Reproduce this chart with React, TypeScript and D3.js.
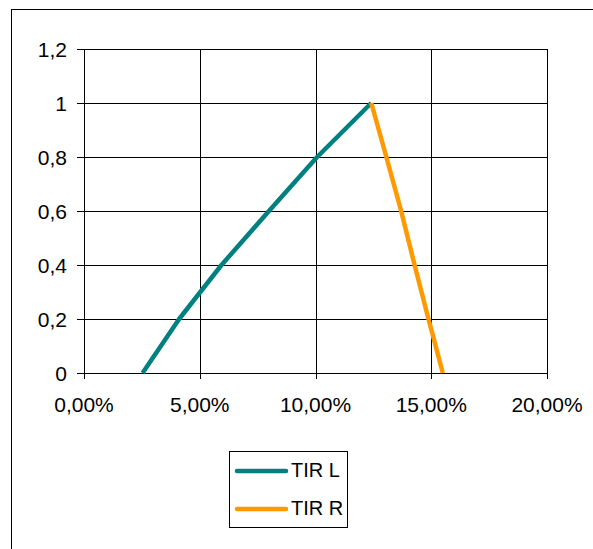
import React from "react";
import * as d3 from "d3";

const xTicks = [0, 0.05, 0.1, 0.15, 0.2];
const yTicks = [0, 0.2, 0.4, 0.6, 0.8, 1, 1.2];

const tirLx = [0.0253, 0.0411, 0.0594, 0.0799, 0.1007, 0.1241];
const tirLy = [0, 0.2, 0.4, 0.6, 0.8, 1];
const tirRx = [0.1241, 0.1306, 0.137, 0.1428, 0.1488, 0.155];
const tirRy = [1, 0.8, 0.6, 0.4, 0.2, 0];

const seriesNames = ["TIR L", "TIR R"];
const colors = ["#008080", "#FF9900"];

const W = 593;
const H = 549;
const left = 84;
const right = 547;
const top = 49;
const bottom = 373;

const fmtX = (v: number) => (v * 100).toFixed(2).replace(".", ",") + "%";
const fmtY = (v: number) => String(Math.round(v * 10) / 10).replace(".", ",");

export default function App() {
  const x = d3.scaleLinear().domain([0, 0.2]).range([left, right]);
  const y = d3.scaleLinear().domain([0, 1.2]).range([bottom, top]);
  const line = d3
    .line<[number, number]>()
    .x((d) => x(d[0]))
    .y((d) => y(d[1]));
  const dataL: [number, number][] = tirLx.map((v, i) => [v, tirLy[i]]);
  const dataR: [number, number][] = tirRx.map((v, i) => [v, tirRy[i]]);
  const font = "'Liberation Sans', Arial, sans-serif";
  const px = (v: number) => Math.round(v) + 0.5;

  return (
    <svg
      width={W}
      height={H}
      style={{ position: "absolute", left: 0, top: 0, background: "#fff" }}
    >
      <rect x={0} y={0} width={W} height={H} fill="#fff" />
      <rect x={11.5} y={9.5} width={W + 20} height={H + 20} fill="none" stroke="#000" strokeWidth={1} />
      {/* grid */}
      {xTicks.map((t) => (
        <line key={"gx" + t} x1={px(x(t))} x2={px(x(t))} y1={top} y2={bottom + 6} stroke="#000" strokeWidth={1} />
      ))}
      {yTicks.map((t) => (
        <line key={"gy" + t} x1={left - 7} x2={right} y1={px(y(t))} y2={px(y(t))} stroke="#000" strokeWidth={1} />
      ))}
      <rect x={px(left)} y={px(top)} width={Math.round(right) - Math.round(left)} height={Math.round(bottom) - Math.round(top)} fill="none" stroke="#000" strokeWidth={1} />
      {/* labels */}
      {xTicks.map((t) => (
        <text key={"lx" + t} x={x(t)} y={412} textAnchor="middle" fontFamily={font} fontSize={21} fill="#000">
          {fmtX(t)}
        </text>
      ))}
      {yTicks.map((t) => (
        <text key={"ly" + t} x={67} y={y(t) + 7.5} textAnchor="end" fontFamily={font} fontSize={21} fill="#000">
          {fmtY(t)}
        </text>
      ))}
      {/* series */}
      <path d={line(dataL) || ""} fill="none" stroke={colors[0]} strokeWidth={4.5} strokeLinejoin="round" />
      <path d={line(dataR) || ""} fill="none" stroke={colors[1]} strokeWidth={4.5} strokeLinejoin="round" />
      {/* legend */}
      <rect x={229.5} y={451.5} width={118} height={76} fill="#fff" stroke="#000" strokeWidth={1} />
      {seriesNames.map((n, i) => (
        <g key={n}>
          <line x1={237} x2={286} y1={471 + i * 38} y2={471 + i * 38} stroke={colors[i]} strokeWidth={4.5} strokeLinecap="round" />
          <text x={291} y={477 + i * 38} fontFamily={font} fontSize={20} fill="#000">
            {n}
          </text>
        </g>
      ))}
    </svg>
  );
}
